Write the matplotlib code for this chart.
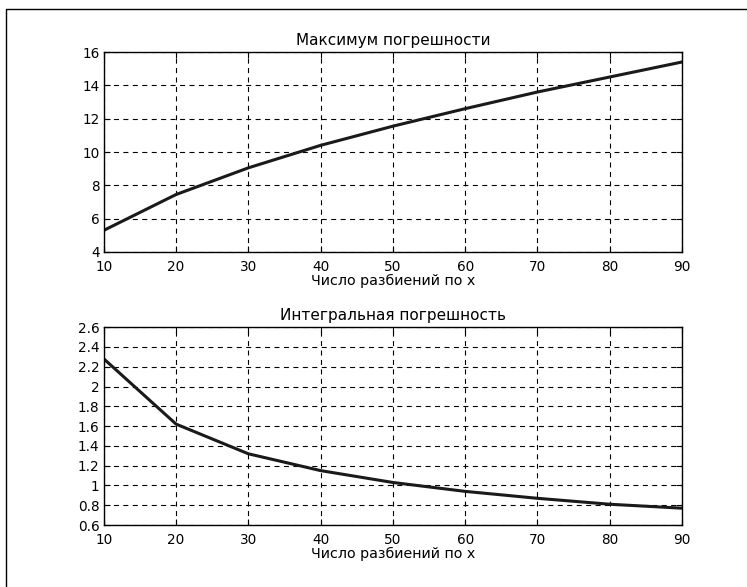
import numpy as np
import matplotlib
matplotlib.use("Agg")
import matplotlib.pyplot as plt
from matplotlib.lines import Line2D

plt.rcParams["font.family"] = ["DejaVu Sans"]
plt.rcParams["font.size"] = 10

# data
n_split = [10, 20, 30, 40, 50, 60, 70, 80, 90]
err_max = [5.3, 7.45, 9.05, 10.4, 11.55, 12.6, 13.6, 14.5, 15.4]
err_int = [2.28, 1.62, 1.32, 1.15, 1.03, 0.94, 0.87, 0.81, 0.77]

xlabel = "Число разбиений по x"
titles = ["Максимум погрешности", "Интегральная погрешность"]


def style_axes(ax, yticks):
    ax.set_xlim(10, 90)
    ax.set_xticks(np.arange(10, 91, 10))
    ax.set_yticks(yticks)
    ax.set_ylim(yticks[0], yticks[-1])
    ax.grid(True, color="black", linestyle=(0, (4.5, 4)), linewidth=0.8)
    ax.tick_params(direction="in", top=True, right=True, length=4,
                   width=0.8, labelsize=9.8)
    ax.tick_params(axis="x", pad=5.5)
    ax.tick_params(axis="y", pad=3)
    for s in ax.spines.values():
        s.set_linewidth(1.0)
    ax.set_xlabel(xlabel, labelpad=0, fontsize=10.3)


fig = plt.figure(figsize=(7.47, 5.87), dpi=100)

ax1 = fig.add_axes([0.139, 0.5707, 0.774, 0.3407])
ax1.plot(n_split, err_max, color="#1a1a1a", linewidth=2.2)
style_axes(ax1, [4, 6, 8, 10, 12, 14, 16])
ax1.set_title(titles[0], pad=5, fontsize=11)

ax2 = fig.add_axes([0.139, 0.1056, 0.774, 0.337])
ax2.plot(n_split, err_int, color="#1a1a1a", linewidth=2.2)
yt = [0.6, 0.8, 1, 1.2, 1.4, 1.6, 1.8, 2, 2.2, 2.4, 2.6]
style_axes(ax2, yt)
ax2.set_yticklabels(["0.6", "0.8", "1", "1.2", "1.4", "1.6", "1.8", "2",
                     "2.2", "2.4", "2.6"])
ax2.set_title(titles[1], pad=5, fontsize=11)

# frame around the figure (only left and top visible)
x0 = 6 / 747
y0 = 1 - 9 / 587
fig.add_artist(Line2D([x0, x0, 1.0], [0.0, y0, y0], color="black",
                      linewidth=1.0, transform=fig.transFigure))

fig.savefig("out.png", dpi=100)
